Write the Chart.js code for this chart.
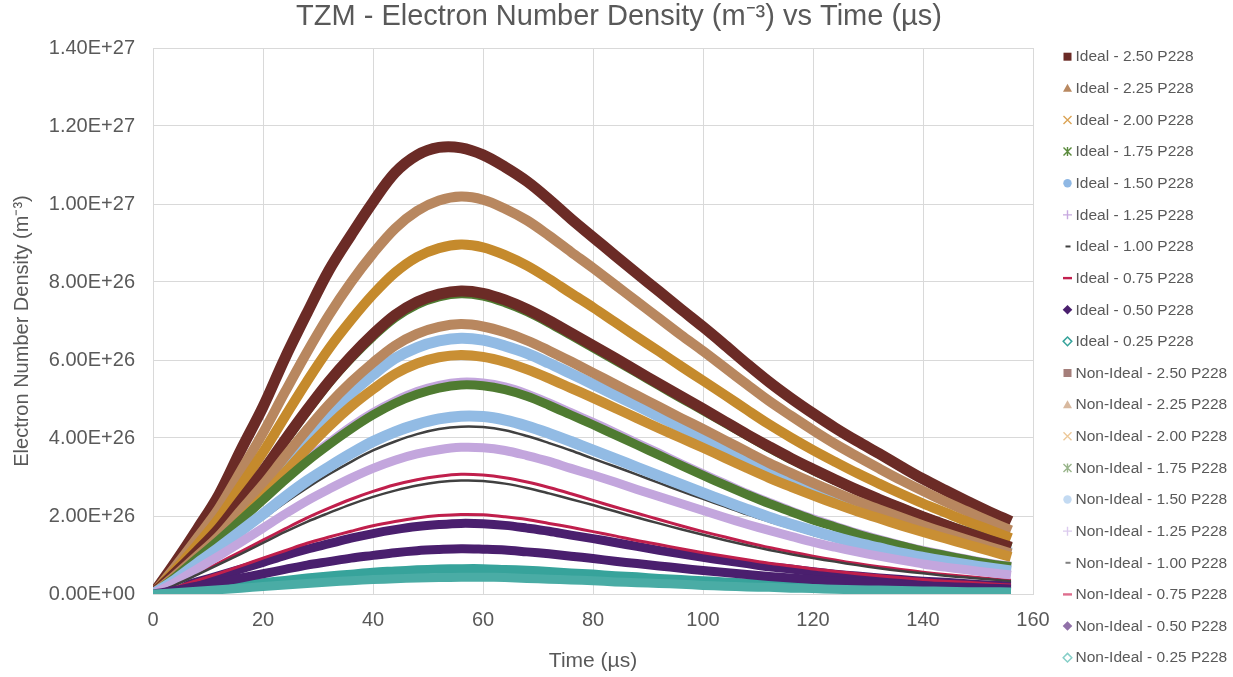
<!DOCTYPE html>
<html>
<head>
<meta charset="utf-8">
<title>TZM - Electron Number Density vs Time</title>
<script src="https://cdn.jsdelivr.net/npm/chart.js@4.4.1/dist/chart.umd.min.js"></script>
<style>
  html, body { margin: 0; padding: 0; background: #ffffff; }
  #wrap { width: 1233px; height: 677px; position: relative; }
  canvas { display: block; }
</style>
</head>
<body>
<div id="wrap"><canvas id="chart" width="1233" height="677"></canvas></div>
<script>
// Time samples (µs)
const timeUs = [0,4,8,12,16,20,24,28,32,36,40,44,48,52,56,60,64,68,72,76,80,84,88,92,96,100,104,108,112,116,120,124,128,132,136,140,144,148,152,156];

// Electron number density, in units of 1e26 m^-3
const ideal_2_50 = [0,0.80,1.65,2.55,3.70,4.80,6.05,7.20,8.30,9.20,10.05,10.80,11.25,11.45,11.44,11.26,10.95,10.58,10.12,9.62,9.15,8.68,8.22,7.76,7.30,6.85,6.38,5.90,5.44,5.02,4.63,4.26,3.92,3.60,3.27,2.95,2.66,2.38,2.11,1.86];
const ideal_2_25 = [0,0.69,1.43,2.20,3.16,4.13,5.18,6.20,7.15,7.99,8.73,9.37,9.82,10.09,10.19,10.11,9.88,9.58,9.19,8.77,8.36,7.93,7.50,7.07,6.64,6.23,5.80,5.37,4.95,4.57,4.20,3.85,3.53,3.22,2.92,2.64,2.37,2.12,1.87,1.63];
const ideal_2_00 = [0,0.61,1.25,1.94,2.78,3.63,4.55,5.45,6.29,7.02,7.68,8.24,8.64,8.87,8.96,8.89,8.69,8.42,8.08,7.71,7.35,6.97,6.59,6.22,5.84,5.47,5.10,4.72,4.35,4.01,3.69,3.39,3.10,2.83,2.57,2.32,2.09,1.86,1.65,1.43];
const ideal_1_75 = [0,0.52,1.08,1.66,2.39,3.12,3.91,4.68,5.41,6.04,6.60,7.08,7.42,7.62,7.70,7.64,7.47,7.24,6.95,6.63,6.31,5.99,5.67,5.34,5.02,4.70,4.38,4.06,3.74,3.45,3.17,2.91,2.66,2.43,2.21,1.99,1.79,1.60,1.40,1.20];
const ideal_1_50 = [0,0.45,0.92,1.42,2.03,2.66,3.33,3.99,4.61,5.14,5.62,6.04,6.32,6.49,6.56,6.51,6.36,6.17,5.92,5.65,5.38,5.10,4.83,4.55,4.28,4.01,3.73,3.46,3.19,2.94,2.70,2.48,2.27,2.07,1.88,1.70,1.53,1.36,1.21,1.05];
const ideal_1_25 = [0,0.43,0.92,1.41,1.93,2.44,2.96,3.45,3.88,4.29,4.65,4.95,5.19,5.35,5.43,5.41,5.31,5.13,4.90,4.65,4.40,4.14,3.87,3.61,3.34,3.08,2.83,2.58,2.35,2.13,1.93,1.74,1.56,1.40,1.25,1.12,1.00,0.89,0.79,0.71];
const ideal_1_00 = [0,0.34,0.73,1.12,1.52,1.93,2.34,2.72,3.07,3.39,3.68,3.91,4.10,4.23,4.29,4.28,4.20,4.05,3.87,3.68,3.47,3.27,3.06,2.85,2.64,2.44,2.24,2.04,1.86,1.69,1.52,1.37,1.24,1.11,0.99,0.88,0.79,0.70,0.63,0.56];
const ideal_0_75 = [0,0.25,0.52,0.80,1.09,1.38,1.67,1.95,2.20,2.43,2.63,2.80,2.93,3.02,3.07,3.05,2.98,2.87,2.73,2.57,2.40,2.23,2.07,1.91,1.75,1.60,1.46,1.32,1.19,1.08,0.97,0.87,0.78,0.70,0.63,0.56,0.50,0.45,0.40,0.35];
const ideal_0_50 = [0,0.14,0.31,0.47,0.64,0.81,0.99,1.15,1.29,1.43,1.55,1.65,1.73,1.78,1.81,1.80,1.76,1.69,1.61,1.51,1.42,1.32,1.22,1.12,1.03,0.94,0.86,0.78,0.70,0.64,0.57,0.51,0.46,0.41,0.37,0.33,0.30,0.26,0.23,0.21];
const ideal_0_25 = [0,0.05,0.11,0.17,0.23,0.29,0.35,0.41,0.46,0.51,0.56,0.59,0.62,0.64,0.65,0.65,0.63,0.61,0.58,0.54,0.51,0.47,0.44,0.40,0.37,0.34,0.31,0.28,0.25,0.23,0.21,0.18,0.17,0.15,0.13,0.12,0.11,0.09,0.08,0.07];
const nonIdeal_2_50 = [0,0.53,1.09,1.68,2.41,3.15,3.95,4.72,5.45,6.09,6.66,7.15,7.49,7.69,7.77,7.71,7.54,7.30,7.01,6.69,6.37,6.05,5.72,5.39,5.07,4.75,4.42,4.09,3.78,3.48,3.20,2.93,2.67,2.43,2.20,1.98,1.77,1.57,1.38,1.20];
const nonIdeal_2_25 = [0,0.47,0.97,1.49,2.15,2.80,3.52,4.21,4.86,5.43,5.93,6.37,6.67,6.85,6.92,6.86,6.71,6.50,6.24,5.96,5.67,5.38,5.09,4.80,4.51,4.23,3.94,3.65,3.36,3.10,2.85,2.61,2.38,2.17,1.96,1.76,1.57,1.39,1.21,1.04];
const nonIdeal_2_00 = [0,0.42,0.86,1.32,1.90,2.48,3.11,3.73,4.30,4.81,5.25,5.64,5.91,6.07,6.13,6.08,5.95,5.76,5.53,5.28,5.03,4.77,4.51,4.25,4.00,3.75,3.49,3.23,2.98,2.75,2.53,2.32,2.12,1.94,1.76,1.59,1.43,1.27,1.11,0.95];
const nonIdeal_1_75 = [0,0.43,0.91,1.39,1.90,2.41,2.92,3.40,3.83,4.23,4.59,4.89,5.12,5.28,5.36,5.34,5.24,5.07,4.84,4.59,4.34,4.08,3.82,3.56,3.30,3.04,2.79,2.55,2.32,2.11,1.90,1.72,1.54,1.38,1.24,1.10,0.99,0.88,0.78,0.70];
const nonIdeal_1_50 = [0,0.36,0.78,1.19,1.62,2.05,2.49,2.90,3.26,3.60,3.91,4.16,4.35,4.49,4.56,4.55,4.46,4.31,4.12,3.91,3.69,3.47,3.25,3.03,2.81,2.59,2.38,2.17,1.97,1.79,1.62,1.46,1.31,1.18,1.05,0.94,0.84,0.75,0.67,0.59];
const nonIdeal_1_25 = [0,0.30,0.64,0.98,1.33,1.69,2.05,2.39,2.69,2.97,3.22,3.43,3.59,3.70,3.76,3.75,3.68,3.55,3.40,3.22,3.05,2.87,2.68,2.50,2.32,2.14,1.96,1.79,1.63,1.48,1.33,1.20,1.08,0.97,0.87,0.77,0.69,0.62,0.55,0.49];
const nonIdeal_1_00 = [0,0.23,0.49,0.76,1.03,1.31,1.59,1.85,2.08,2.30,2.49,2.65,2.78,2.87,2.91,2.90,2.83,2.72,2.58,2.43,2.28,2.12,1.96,1.81,1.66,1.52,1.38,1.25,1.13,1.02,0.92,0.83,0.74,0.66,0.59,0.53,0.47,0.42,0.38,0.33];
const nonIdeal_0_75 = [0,0.16,0.35,0.53,0.72,0.92,1.11,1.30,1.46,1.61,1.75,1.86,1.95,2.01,2.04,2.03,1.98,1.91,1.81,1.71,1.60,1.49,1.37,1.27,1.16,1.06,0.97,0.88,0.79,0.72,0.64,0.58,0.52,0.47,0.42,0.37,0.33,0.30,0.26,0.23];
const nonIdeal_0_50 = [0,0.09,0.20,0.30,0.41,0.52,0.63,0.74,0.83,0.92,0.99,1.06,1.11,1.14,1.16,1.15,1.13,1.08,1.03,0.97,0.91,0.84,0.78,0.72,0.66,0.60,0.55,0.50,0.45,0.41,0.37,0.33,0.30,0.26,0.24,0.21,0.19,0.17,0.15,0.13];
const nonIdeal_0_25 = [0,0.03,0.07,0.11,0.15,0.19,0.23,0.27,0.31,0.34,0.37,0.39,0.41,0.42,0.43,0.43,0.42,0.40,0.38,0.36,0.34,0.31,0.29,0.27,0.25,0.22,0.20,0.18,0.17,0.15,0.14,0.12,0.11,0.10,0.09,0.08,0.07,0.06,0.06,0.05];

const seriesNames = [
  'Ideal - 2.50 P228','Ideal - 2.25 P228','Ideal - 2.00 P228','Ideal - 1.75 P228','Ideal - 1.50 P228',
  'Ideal - 1.25 P228','Ideal - 1.00 P228','Ideal - 0.75 P228','Ideal - 0.50 P228','Ideal - 0.25 P228',
  'Non-Ideal - 2.50 P228','Non-Ideal - 2.25 P228','Non-Ideal - 2.00 P228','Non-Ideal - 1.75 P228','Non-Ideal - 1.50 P228',
  'Non-Ideal - 1.25 P228','Non-Ideal - 1.00 P228','Non-Ideal - 0.75 P228','Non-Ideal - 0.50 P228','Non-Ideal - 0.25 P228'
];
const seriesValues = [
  ideal_2_50, ideal_2_25, ideal_2_00, ideal_1_75, ideal_1_50,
  ideal_1_25, ideal_1_00, ideal_0_75, ideal_0_50, ideal_0_25,
  nonIdeal_2_50, nonIdeal_2_25, nonIdeal_2_00, nonIdeal_1_75, nonIdeal_1_50,
  nonIdeal_1_25, nonIdeal_1_00, nonIdeal_0_75, nonIdeal_0_50, nonIdeal_0_25
];

const xTickValues = [0,20,40,60,80,100,120,140,160];
const xTickLabels = ['0','20','40','60','80','100','120','140','160'];
const yTickValues = [0,2e26,4e26,6e26,8e26,1e27,1.2e27,1.4e27];
const yTickLabels = ['0.00E+00','2.00E+26','4.00E+26','6.00E+26','8.00E+26','1.00E+27','1.20E+27','1.40E+27'];

const DENSITY_UNIT = 1e26;

const chartTitle = 'TZM - Electron Number Density (m⁻³) vs Time (µs)';
const xAxisTitle = 'Time (µs)';
const yAxisTitle = 'Electron Number Density (m⁻³)';

// Styling per concentration (shared by the ideal and non-ideal runs)
const FONT = '"Liberation Sans", Arial, sans-serif';
const TEXT = '#595959';
const GRID = '#d9d9d9';
const bandColors  = ['#6b2b26','#b8875f','#c58a2c','#4f7b31','#92bbe4','#c3a6dd','#404040','#c01f4c','#4a1f6e','#37a39b'];
const nonIdealBandColors = ['#6b2b26','#b8875f','#c98f34','#4f7b31','#92bbe4','#c3a6dd','#404040','#c01f4c','#4a1f6e','#4aaca5'];
const bandWidths  = [11, 10, 10, 9, 11, 9, 2.5, 3, 9, 9];
const markerKinds = ['rect','triangle','crossRot','star','circle','cross','dash','line','rectRot','rectRotOpen'];
const idealKeyColors    = ['#6b2b26','#b98961','#dba354','#5a8a3c','#8fb8e4','#c7a9e0','#404040','#c2204f','#4a1f6e','#37a39b'];
const nonIdealKeyColors = ['#a57f7b','#d8b99f','#edc99a','#98b48a','#c3daf2','#dccbee','#808080','#de6e8e','#9070a8','#86cfc8'];

const datasets = seriesNames.map((name, i) => {
  const c = i < 10 ? bandColors[i] : nonIdealBandColors[i - 10];
  return {
    label: name,
    data: timeUs.map((t, k) => ({ x: t, y: seriesValues[i][k] * DENSITY_UNIT })),
    borderColor: c,
    backgroundColor: c,
    borderWidth: bandWidths[i % 10],
    borderJoinStyle: 'round',
    borderCapStyle: 'butt',
    pointRadius: 0,
    pointHoverRadius: 0,
    tension: 0.35,
    fill: false,
    order: seriesNames.length - i
  };
});

function drawKeyMarker(ctx, kind, cx, cy, color) {
  ctx.save();
  ctx.fillStyle = color;
  ctx.strokeStyle = color;
  ctx.lineWidth = 1.4;
  ctx.beginPath();
  switch (kind) {
    case 'rect':
      ctx.fillRect(cx - 4, cy - 4, 8, 8);
      break;
    case 'triangle':
      ctx.moveTo(cx, cy - 4.5); ctx.lineTo(cx + 4.5, cy + 3.5); ctx.lineTo(cx - 4.5, cy + 3.5); ctx.closePath(); ctx.fill();
      break;
    case 'crossRot':
      ctx.moveTo(cx - 4, cy - 4); ctx.lineTo(cx + 4, cy + 4); ctx.moveTo(cx + 4, cy - 4); ctx.lineTo(cx - 4, cy + 4); ctx.stroke();
      break;
    case 'star':
      ctx.moveTo(cx - 4, cy - 4); ctx.lineTo(cx + 4, cy + 4); ctx.moveTo(cx + 4, cy - 4); ctx.lineTo(cx - 4, cy + 4);
      ctx.moveTo(cx, cy - 4.5); ctx.lineTo(cx, cy + 4.5); ctx.stroke();
      break;
    case 'circle':
      ctx.arc(cx, cy, 4.2, 0, Math.PI * 2); ctx.fill();
      break;
    case 'cross':
      ctx.moveTo(cx - 4.5, cy); ctx.lineTo(cx + 4.5, cy); ctx.moveTo(cx, cy - 4.5); ctx.lineTo(cx, cy + 4.5); ctx.stroke();
      break;
    case 'dash':
      ctx.fillRect(cx - 2, cy - 1, 5, 2);
      break;
    case 'line':
      ctx.fillRect(cx - 4.5, cy - 1.2, 9, 2.4);
      break;
    case 'rectRot':
      ctx.moveTo(cx, cy - 4.8); ctx.lineTo(cx + 4.8, cy); ctx.lineTo(cx, cy + 4.8); ctx.lineTo(cx - 4.8, cy); ctx.closePath(); ctx.fill();
      break;
    case 'rectRotOpen':
      ctx.lineWidth = 1.5;
      ctx.moveTo(cx, cy - 4.3); ctx.lineTo(cx + 4.3, cy); ctx.lineTo(cx, cy + 4.3); ctx.lineTo(cx - 4.3, cy); ctx.closePath();
      ctx.fillStyle = '#ffffff'; ctx.fill(); ctx.stroke();
      break;
  }
  ctx.restore();
}

// Chart title, vertical axis title and the series key on the right
const annotations = {
  id: 'annotations',
  afterDraw(chart) {
    const ctx = chart.ctx;
    ctx.save();
    ctx.fillStyle = TEXT;
    ctx.textAlign = 'center';
    ctx.textBaseline = 'middle';
    ctx.font = '29px ' + FONT;
    ctx.fillText(chartTitle, 619, 17);

    ctx.save();
    ctx.translate(22, 331);
    ctx.rotate(-Math.PI / 2);
    ctx.font = '20px ' + FONT;
    ctx.fillText(yAxisTitle, 0, 0);
    ctx.restore();

    ctx.font = '15.5px ' + FONT;
    ctx.textAlign = 'left';
    seriesNames.forEach((name, i) => {
      const cy = 56.7 + 31.63 * i;
      const color = i < 10 ? idealKeyColors[i] : nonIdealKeyColors[i - 10];
      drawKeyMarker(ctx, markerKinds[i % 10], 1067.5, cy, color);
      ctx.fillStyle = TEXT;
      ctx.fillText(name, 1075.5, cy + 0.5);
    });
    ctx.restore();
  }
};

new Chart(document.getElementById('chart'), {
  type: 'line',
  data: { datasets },
  options: {
    responsive: false,
    animation: false,
    devicePixelRatio: 1,
    events: [],
    layout: { padding: { left: 0, right: 200, top: 48, bottom: 0 } },
    plugins: {
      legend: { display: false },
      tooltip: { enabled: false },
      title: { display: false }
    },
    scales: {
      x: {
        type: 'linear',
        min: 0,
        max: 160,
        afterBuildTicks: s => { s.ticks = xTickValues.map(v => ({ value: v })); },
        ticks: {
          autoSkip: false,
          maxRotation: 0,
          callback: (v, i) => xTickLabels[i],
          color: TEXT,
          font: { family: FONT, size: 20 },
          padding: 14
        },
        grid: { color: GRID, drawTicks: false },
        border: { color: GRID },
        title: {
          display: true,
          text: xAxisTitle,
          color: TEXT,
          font: { family: FONT, size: 21 },
          padding: { top: 0, bottom: 3.4 }
        },
        afterFit: s => { s.height = 83; }
      },
      y: {
        type: 'linear',
        min: 0,
        max: 1.4e27,
        afterBuildTicks: s => { s.ticks = yTickValues.map(v => ({ value: v })); },
        ticks: {
          callback: (v, i) => yTickLabels[i],
          color: TEXT,
          font: { family: FONT, size: 20 },
          padding: 18
        },
        grid: { color: GRID, drawTicks: false },
        border: { color: GRID },
        title: { display: false },
        afterFit: s => { s.width = 153; }
      }
    }
  },
  plugins: [annotations]
});
</script>
</body>
</html>
